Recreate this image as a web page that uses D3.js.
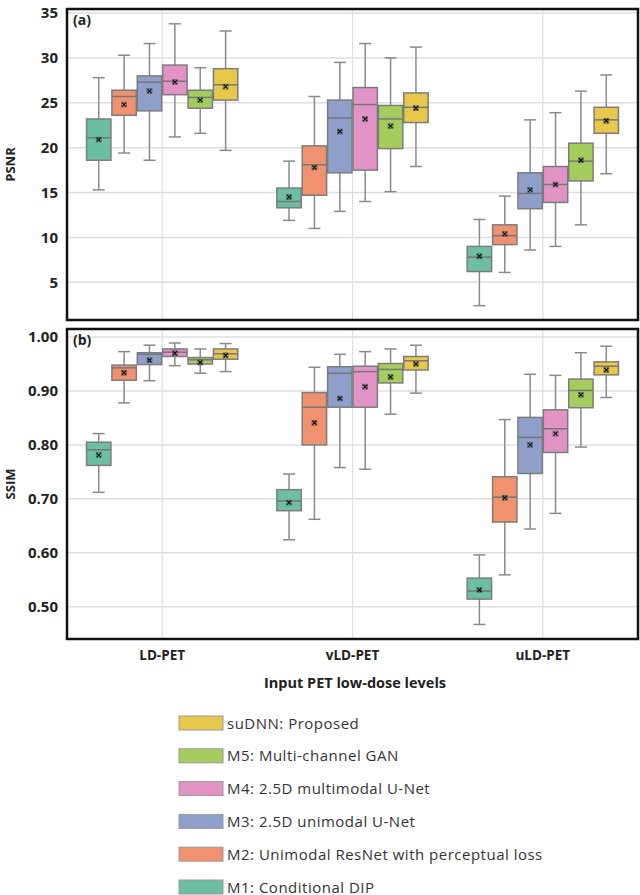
<!DOCTYPE html>
<html>
<head>
<meta charset="utf-8">
<script src="https://cdn.jsdelivr.net/npm/d3@7"></script>
<style>
  body { margin: 0; background: #fff; }
  text { font-family: "Open Sans", "Noto Sans", sans-serif; }
</style>
</head>
<body>
<div id="chart"></div>
<script>
// categories and methods
var categories = ["LD-PET", "vLD-PET", "uLD-PET"];
var methods = ["M1", "M2", "M3", "M4", "M5", "suDNN"];
var methodLabels = ["M1: Conditional DIP", "M2: Unimodal ResNet with perceptual loss",
  "M3: 2.5D unimodal U-Net", "M4: 2.5D multimodal U-Net", "M5: Multi-channel GAN", "suDNN: Proposed"];
var colors = ["#6cbfa3", "#f0926f", "#8e9fca", "#e293c6", "#a5cd5e", "#e8c84a"];

// box stats per category: [low whisker, q1, median, q3, high whisker, mean]
var psnrM1 = [[15.3, 18.6, 21.1, 23.2, 27.8, 20.9], [11.9, 13.3, 14.0, 15.5, 18.5, 14.5], [2.4, 6.2, 7.8, 9.0, 12.0, 7.9]];
var psnrM2 = [[19.4, 23.6, 25.7, 26.4, 30.3, 24.8], [11.0, 14.7, 18.1, 20.2, 25.7, 17.8], [6.1, 9.2, 10.2, 11.4, 14.6, 10.4]];
var psnrM3 = [[18.6, 24.1, 27.3, 28.0, 31.6, 26.3], [12.9, 17.2, 23.3, 25.3, 29.5, 21.8], [8.6, 13.2, 14.9, 17.2, 23.1, 15.3]];
var psnrM4 = [[21.2, 25.9, 27.4, 29.2, 33.8, 27.3], [14.0, 17.5, 24.8, 26.7, 31.6, 23.2], [9.0, 13.9, 15.9, 17.9, 23.9, 15.9]];
var psnrM5 = [[21.6, 24.4, 25.6, 26.4, 28.9, 25.3], [15.1, 19.9, 23.2, 24.7, 30.0, 22.4], [11.4, 16.3, 18.5, 20.5, 26.3, 18.6]];
var psnrSu = [[19.7, 25.3, 27.0, 28.8, 33.0, 26.8], [17.9, 22.8, 24.5, 26.1, 31.2, 24.4], [17.1, 21.6, 23.1, 24.5, 28.1, 23.0]];

var ssimM1 = [[0.712, 0.762, 0.791, 0.805, 0.821, 0.781], [0.624, 0.678, 0.696, 0.717, 0.746, 0.693], [0.467, 0.514, 0.529, 0.553, 0.596, 0.531]];
var ssimM2 = [[0.878, 0.920, 0.943, 0.948, 0.973, 0.934], [0.662, 0.800, 0.870, 0.897, 0.944, 0.841], [0.559, 0.657, 0.703, 0.741, 0.847, 0.702]];
var ssimM3 = [[0.919, 0.949, 0.968, 0.971, 0.985, 0.957], [0.758, 0.870, 0.933, 0.945, 0.968, 0.886], [0.644, 0.747, 0.814, 0.851, 0.931, 0.800]];
var ssimM4 = [[0.947, 0.964, 0.972, 0.978, 0.989, 0.970], [0.755, 0.870, 0.936, 0.946, 0.973, 0.908], [0.673, 0.786, 0.830, 0.865, 0.929, 0.821]];
var ssimM5 = [[0.933, 0.950, 0.958, 0.962, 0.978, 0.953], [0.857, 0.915, 0.940, 0.951, 0.978, 0.926], [0.796, 0.869, 0.901, 0.922, 0.971, 0.893]];
var ssimSu = [[0.936, 0.959, 0.969, 0.978, 0.988, 0.966], [0.896, 0.939, 0.956, 0.964, 0.985, 0.950], [0.888, 0.930, 0.946, 0.954, 0.983, 0.939]];

var psnrTicks = [5, 10, 15, 20, 25, 30, 35];
var ssimTicks = [0.5, 0.6, 0.7, 0.8, 0.9, 1.0];

var psnrData = [psnrM1, psnrM2, psnrM3, psnrM4, psnrM5, psnrSu];
var ssimData = [ssimM1, ssimM2, ssimM3, ssimM4, ssimM5, ssimSu];

var svg = d3.select("#chart").append("svg")
  .attr("width", 640)
  .attr("height", 895);

var left = 67, right = 638;

var x0 = d3.scaleBand().domain(categories).range([left, right]);
var x1 = d3.scaleBand().domain(methods).range([0, x0.bandwidth()]).paddingOuter(0.75).paddingInner(0);

function drawPanel(top, bottom, domain, ticks, fmt, data, tag, yLabel) {
  var y = d3.scaleLinear().domain(domain).range([bottom, top]);
  var g = svg.append("g");

  // grid
  g.selectAll(".hgrid").data(ticks).enter().append("line")
    .attr("x1", left).attr("x2", right)
    .attr("y1", d => y(d)).attr("y2", d => y(d))
    .attr("stroke", "#dedede").attr("stroke-width", 1.5);
  g.selectAll(".vgrid").data(categories).enter().append("line")
    .attr("x1", d => x0(d) + x0.bandwidth() / 2).attr("x2", d => x0(d) + x0.bandwidth() / 2)
    .attr("y1", top).attr("y2", bottom)
    .attr("stroke", "#dedede").attr("stroke-width", 1.2);

  // y axis
  var axis = g.append("g")
    .attr("transform", `translate(${left},0)`)
    .call(d3.axisLeft(y).tickValues(ticks).tickFormat(fmt).tickSize(0).tickPadding(9));
  axis.select(".domain").remove();
  axis.selectAll("text")
    .style("font-family", "'Open Sans', sans-serif")
    .style("font-size", "15px").style("font-weight", "bold").attr("fill", "#222");

  g.append("text")
    .attr("transform", `translate(15,${(top + bottom) / 2}) rotate(-90)`)
    .attr("text-anchor", "middle")
    .style("font-size", "13px").style("font-weight", "bold").attr("fill", "#222")
    .text(yLabel);

  // boxes
  methods.forEach(function(m, i) {
    categories.forEach(function(c, j) {
      var s = data[i][j];
      var cx = x0(c) + x1(m) + x1.bandwidth() / 2;
      var w = x1.bandwidth() - 1;
      var bg = g.append("g");
      bg.append("line").attr("x1", cx).attr("x2", cx).attr("y1", y(s[4])).attr("y2", y(s[3]))
        .attr("stroke", "#8a8a8a").attr("stroke-width", 1.5);
      bg.append("line").attr("x1", cx).attr("x2", cx).attr("y1", y(s[1])).attr("y2", y(s[0]))
        .attr("stroke", "#8a8a8a").attr("stroke-width", 1.5);
      bg.append("line").attr("x1", cx - 6).attr("x2", cx + 6).attr("y1", y(s[4])).attr("y2", y(s[4]))
        .attr("stroke", "#8a8a8a").attr("stroke-width", 1.5);
      bg.append("line").attr("x1", cx - 6).attr("x2", cx + 6).attr("y1", y(s[0])).attr("y2", y(s[0]))
        .attr("stroke", "#8a8a8a").attr("stroke-width", 1.5);
      bg.append("rect")
        .attr("x", cx - w / 2).attr("width", w)
        .attr("y", y(s[3])).attr("height", y(s[1]) - y(s[3]))
        .attr("fill", colors[i]).attr("stroke", "#7c7c7c").attr("stroke-width", 1.5);
      bg.append("line").attr("x1", cx - w / 2).attr("x2", cx + w / 2).attr("y1", y(s[2])).attr("y2", y(s[2]))
        .attr("stroke", "#777").attr("stroke-width", 1.5);
      // mean marker
      var my = y(s[5]);
      bg.append("rect").attr("x", cx - 2.5).attr("y", my - 2.5).attr("width", 5).attr("height", 5)
        .attr("fill", "none").attr("stroke", "#555").attr("stroke-width", 0.6);
      bg.append("path").attr("d", `M${cx - 2},${my - 2}L${cx + 2},${my + 2}M${cx - 2},${my + 2}L${cx + 2},${my - 2}`)
        .attr("stroke", "#111").attr("stroke-width", 1.3);
    });
  });

  // frame
  g.append("rect").attr("x", left).attr("y", top).attr("width", right - left).attr("height", bottom - top)
    .attr("fill", "none").attr("stroke", "#111").attr("stroke-width", 2.5);

  g.append("text").attr("x", left + 6).attr("y", top + 16)
    .style("font-size", "14px").style("font-weight", "bold").attr("fill", "#222")
    .text(tag);
}

drawPanel(9, 320, [0.8, 35.45], psnrTicks, d3.format("d"), psnrData, "(a)", "PSNR");
drawPanel(329, 639, [0.44, 1.015], ssimTicks, d3.format(".2f"), ssimData, "(b)", "SSIM");

// category labels
svg.selectAll(".cat").data(categories).enter().append("text")
  .attr("x", d => x0(d) + x0.bandwidth() / 2)
  .attr("y", 660)
  .attr("text-anchor", "middle")
  .style("font-size", "13.5px").style("font-weight", "bold").attr("fill", "#222")
  .text(d => d);

svg.append("text")
  .attr("x", 355).attr("y", 688)
  .attr("text-anchor", "middle")
  .style("font-size", "14.5px").style("font-weight", "bold").attr("fill", "#222")
  .text("Input PET low-dose levels");

// legend, reversed order
var legendOrder = d3.range(methods.length).reverse();
var lg = svg.selectAll(".leg").data(legendOrder).enter().append("g")
  .attr("transform", (d, k) => `translate(179,${716 + k * 32.8})`);
lg.append("rect").attr("width", 44).attr("height", 14)
  .attr("fill", d => colors[d]).attr("stroke", "#999").attr("stroke-width", 1);
lg.append("text").attr("x", 48).attr("y", 12.5)
  .style("font-size", "15px").style("letter-spacing", "0.5px").attr("fill", "#333")
  .text(d => methodLabels[d]);
</script>
</body>
</html>
